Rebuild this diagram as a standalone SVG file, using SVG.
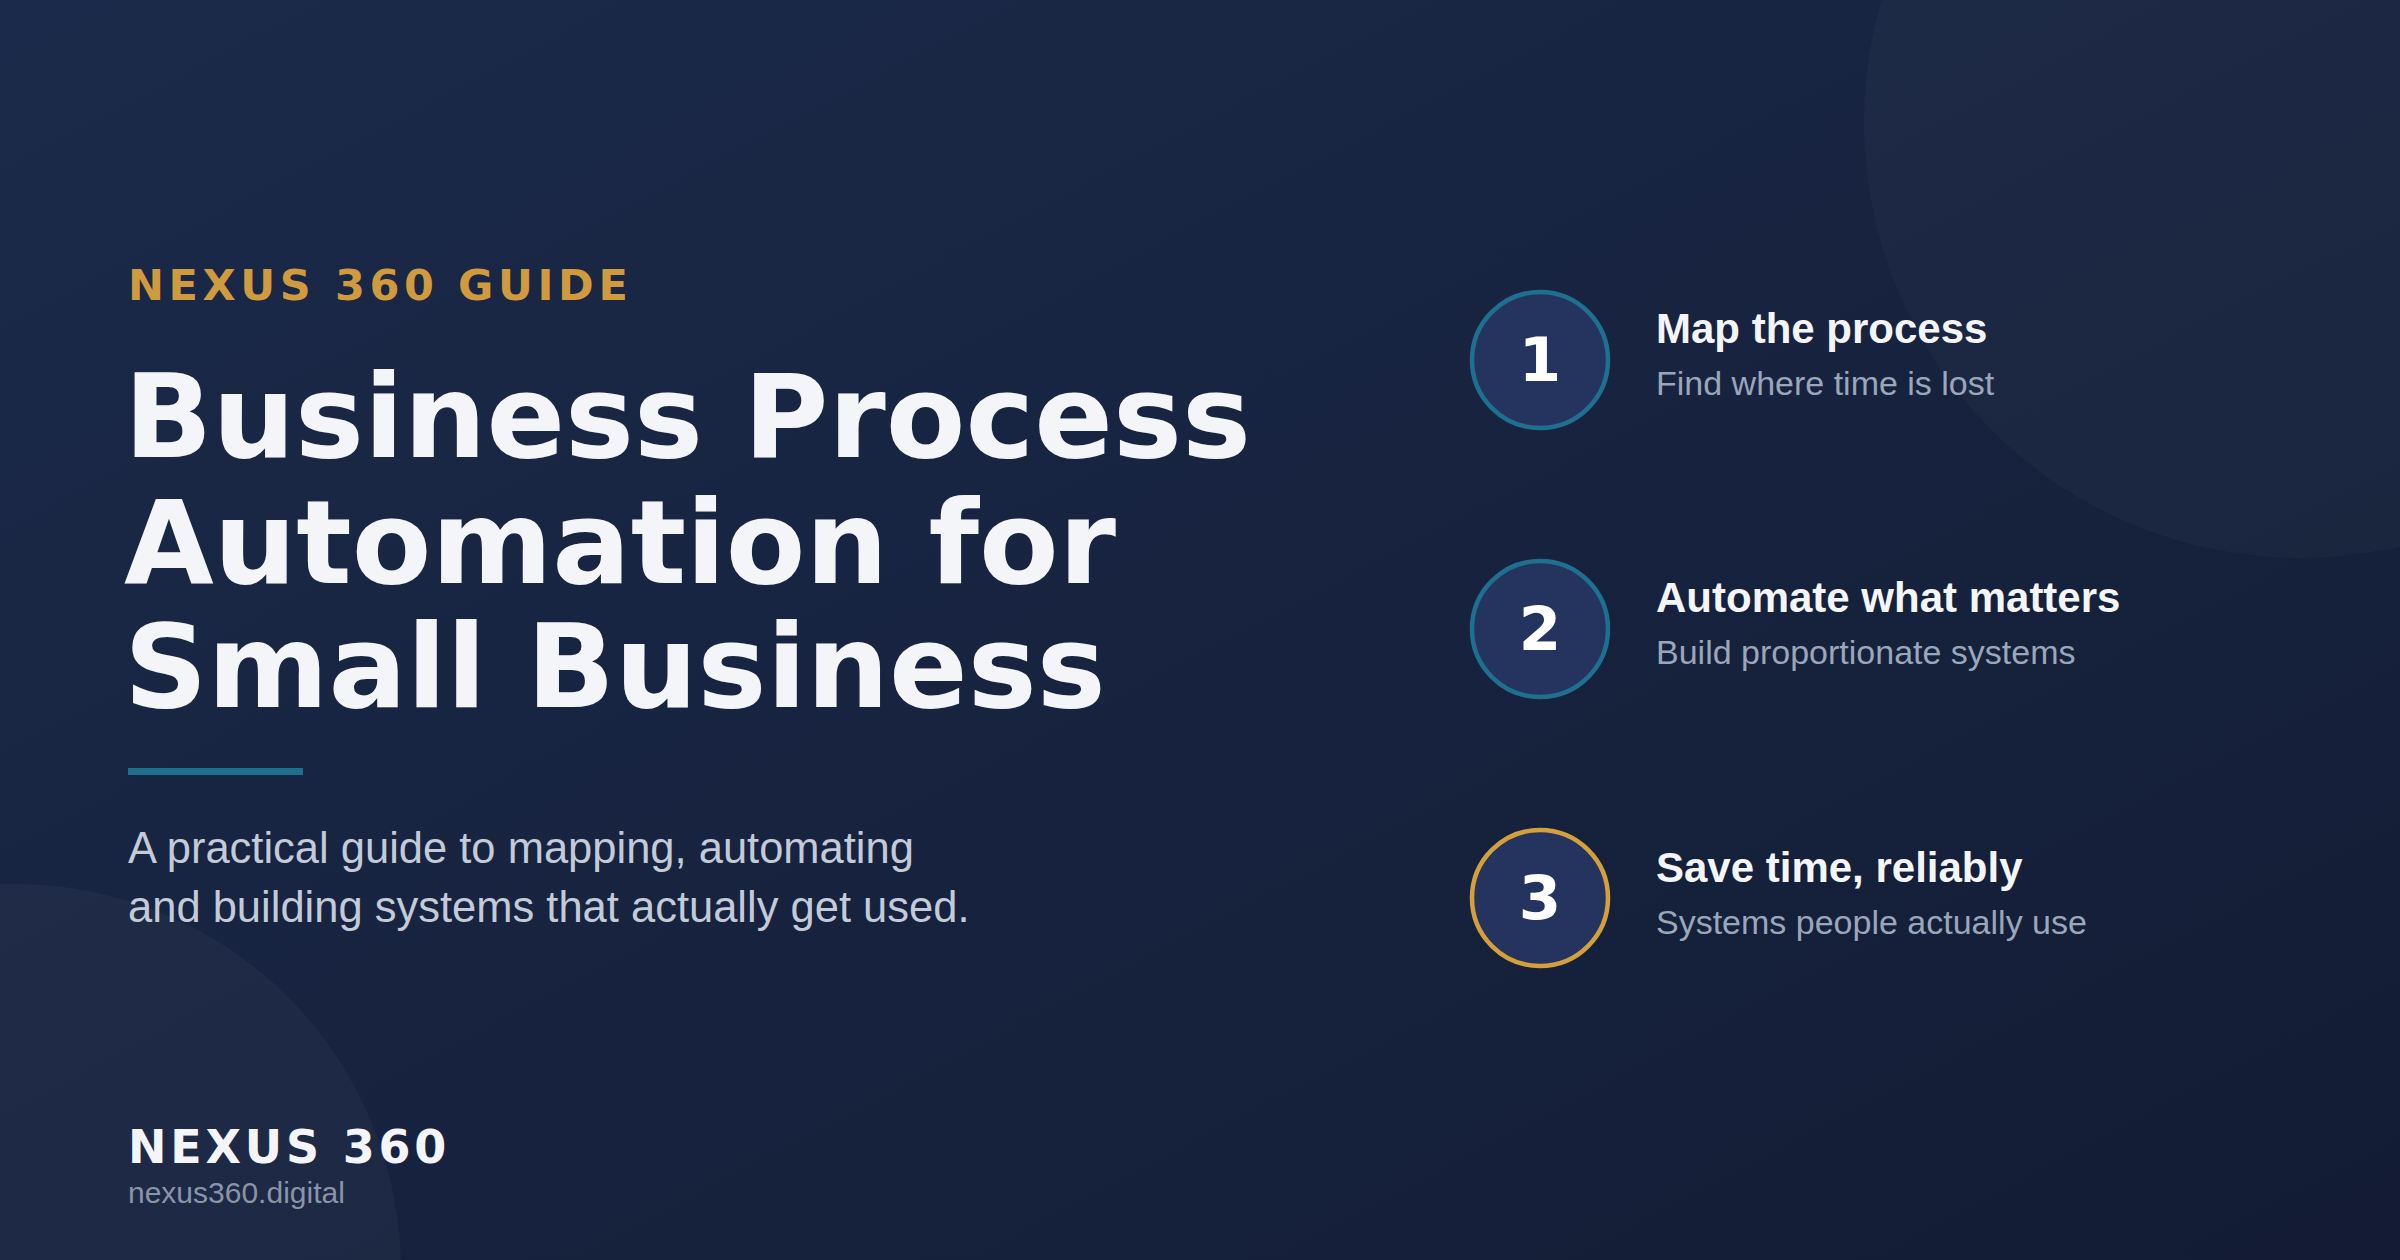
<svg xmlns="http://www.w3.org/2000/svg" width="2400" height="1260" viewBox="0 0 2400 1260">
<defs>
<linearGradient id="bg" x1="0" y1="0" x2="1" y2="1">
<stop offset="0" stop-color="#1b2a4a"/><stop offset="1" stop-color="#131c34"/>
</linearGradient>
<style>
.t{font-family:"DejaVu Sans",sans-serif;font-weight:bold;fill:#f4f5f8}
.s{font-family:"Liberation Sans",Arial,sans-serif}
.num{font-family:"DejaVu Sans",sans-serif;font-weight:bold;fill:#ffffff;font-size:61px;text-anchor:middle}
.c{fill:#24345f;stroke-width:4.5}
.h{font-family:"Liberation Sans",Arial,sans-serif;font-weight:bold;font-size:42px;fill:#f4f5f8}
.d{font-family:"Liberation Sans",Arial,sans-serif;font-size:34px;fill:#9aa6ba}
</style>
</defs>
<rect width="2400" height="1260" fill="url(#bg)"/>
<circle cx="2300" cy="122" r="436" fill="#ffffff" fill-opacity="0.025"/>
<circle cx="15" cy="1270" r="386" fill="#ffffff" fill-opacity="0.03"/>
<g id="header">
<text x="128" y="300" class="t" font-size="43" letter-spacing="4.6" style="fill:#d09a3e">NEXUS 360 GUIDE</text>
<text class="t" font-size="116" x="124"><tspan x="124" y="457">Business Process</tspan><tspan x="124" y="583">Automation for</tspan><tspan x="124" y="707">Small Business</tspan></text>
<rect x="128" y="768" width="175" height="7" fill="#1f6f8f"/>
<text class="s" font-size="43.5" fill="#c3cad8"><tspan x="128" y="863">A practical guide to mapping, automating</tspan><tspan x="128" y="922">and building systems that actually get used.</tspan></text>
</g>
<g id="footer">
<text x="128" y="1163" class="t" font-size="46" letter-spacing="3.8">NEXUS 360</text>
<text x="128" y="1203" class="s" font-size="30" fill="#8a94a8">nexus360.digital</text>
</g>
<g id="step1">
<circle cx="1540" cy="360" r="68" class="c" stroke="#1f6f8f"/>
<text x="1540" y="381" class="num">1</text>
<text x="1656" y="343" class="h">Map the process</text>
<text x="1656" y="395" class="d">Find where time is lost</text>
</g>
<g id="step2">
<circle cx="1540" cy="629" r="68" class="c" stroke="#1f6f8f"/>
<text x="1540" y="650" class="num">2</text>
<text x="1656" y="612" class="h">Automate what matters</text>
<text x="1656" y="664" class="d">Build proportionate systems</text>
</g>
<g id="step3">
<circle cx="1540" cy="898" r="68" class="c" stroke="#d4a03c"/>
<text x="1540" y="919" class="num">3</text>
<text x="1656" y="882" class="h">Save time, reliably</text>
<text x="1656" y="934" class="d">Systems people actually use</text>
</g>
<g id="connectors"/>
</svg>
